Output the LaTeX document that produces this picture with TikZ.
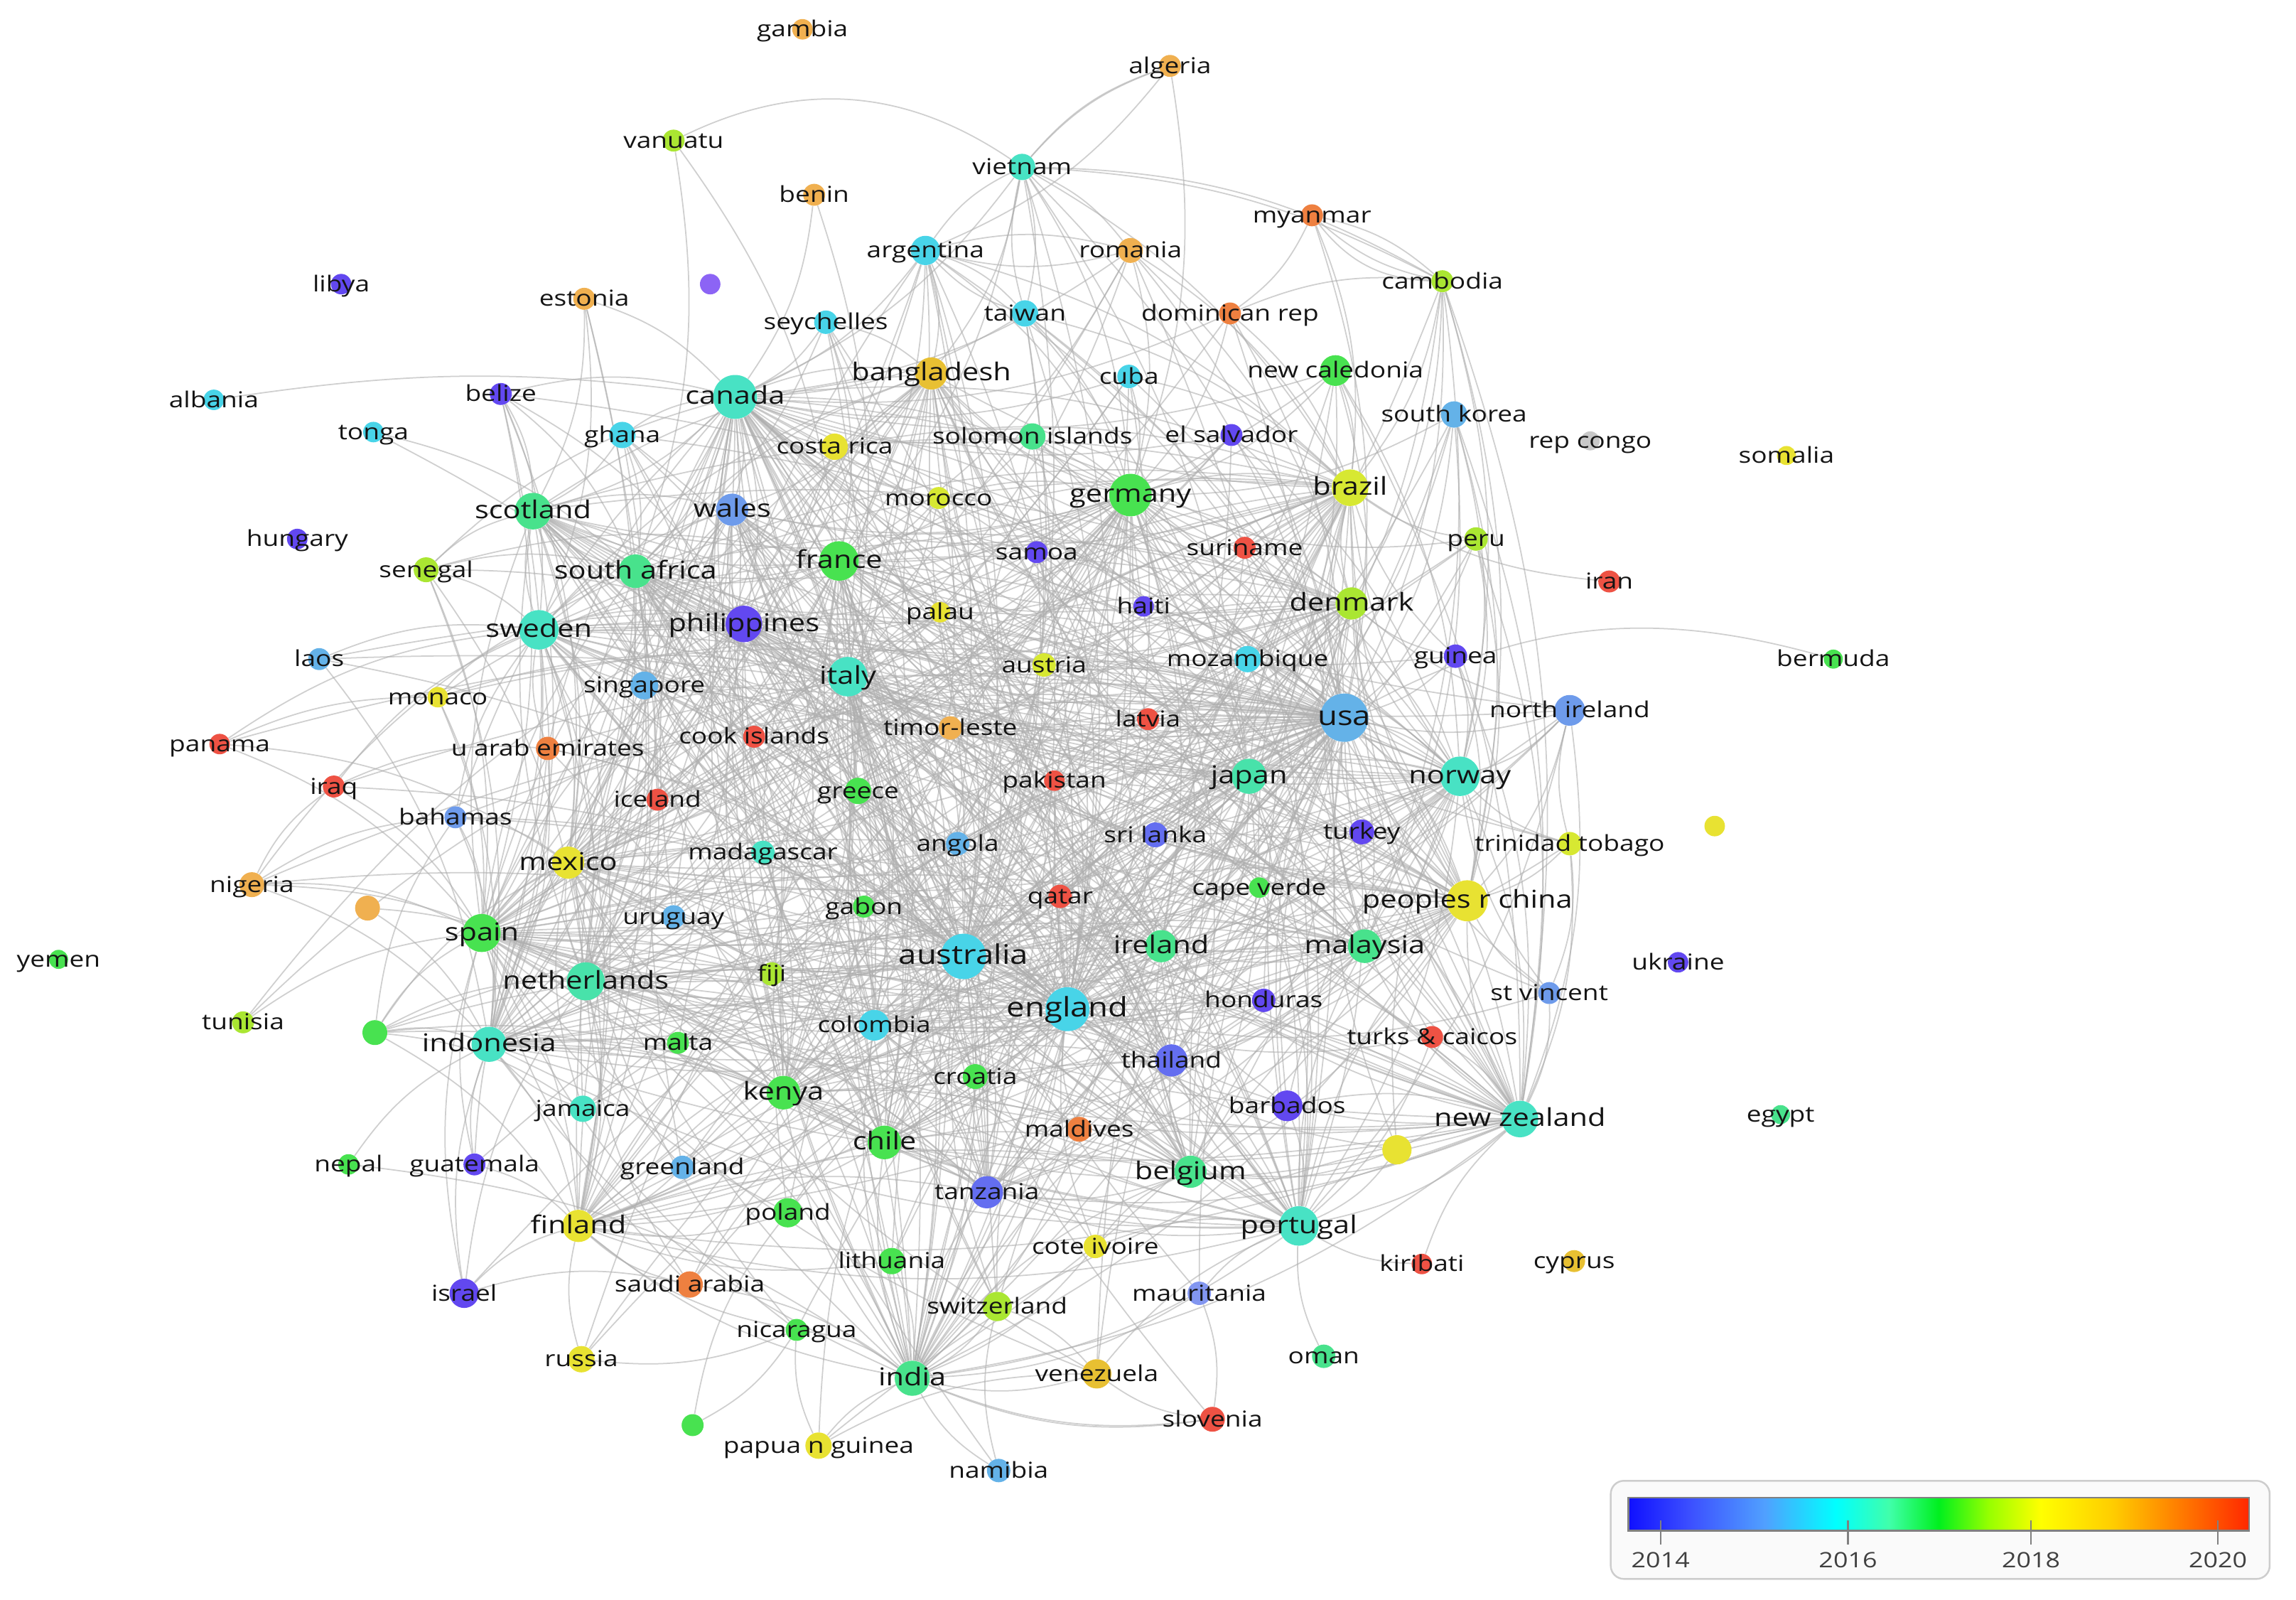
\documentclass[tikz,border=0pt]{standalone}
\usepackage{fontspec}
\setmainfont{Open Sans}[FakeStretch=1.2]
\pgfdeclarelayer{bg}
\pgfdeclarelayer{edges}
\pgfsetlayers{bg,edges,main}
\definecolor{cPur}{RGB}{98,72,240}
\definecolor{cPurL}{RGB}{140,100,245}
\definecolor{cBlue2}{RGB}{100,110,240}
\definecolor{cBlueL}{RGB}{130,150,240}
\definecolor{cLb}{RGB}{100,178,232}
\definecolor{cLb2}{RGB}{110,155,235}
\definecolor{cCyan}{RGB}{72,212,232}
\definecolor{cTurq}{RGB}{72,226,196}
\definecolor{cTurq2}{RGB}{72,226,170}
\definecolor{cSea}{RGB}{72,226,140}
\definecolor{cGreen}{RGB}{72,226,80}
\definecolor{cYG}{RGB}{170,230,50}
\definecolor{cYG2}{RGB}{215,232,50}
\definecolor{cYel}{RGB}{232,226,50}
\definecolor{cGold}{RGB}{232,192,50}
\definecolor{cOr}{RGB}{240,176,80}
\definecolor{cOr2}{RGB}{238,128,64}
\definecolor{cRed}{RGB}{238,82,68}
\definecolor{cGrey}{RGB}{200,200,200}
\definecolor{txt}{RGB}{20,20,20}
\definecolor{edgec}{RGB}{175,175,175}
\definecolor{legtxt}{RGB}{64,64,64}
\definecolor{legbox}{RGB}{205,205,205}
\definecolor{legfill}{RGB}{250,250,250}
\definecolor{s0}{RGB}{16,16,255}
\definecolor{s1}{RGB}{60,80,255}
\definecolor{s2}{RGB}{80,160,255}
\definecolor{s3}{RGB}{0,255,255}
\definecolor{s4}{RGB}{64,255,170}
\definecolor{s5}{RGB}{0,240,30}
\definecolor{s6}{RGB}{150,255,0}
\definecolor{s7}{RGB}{255,255,0}
\definecolor{s8}{RGB}{255,205,0}
\definecolor{s9}{RGB}{255,130,0}
\definecolor{s10}{RGB}{255,40,0}
\pgfdeclarehorizontalshading{vos}{100bp}{color(0bp)=(s0); color(25bp)=(s0); color(30bp)=(s1); color(36bp)=(s2); color(41.7bp)=(s3); color(46bp)=(s4); color(50bp)=(s5); color(54bp)=(s6); color(58.2bp)=(s7); color(64bp)=(s8); color(69bp)=(s9); color(75bp)=(s10); color(100bp)=(s10)}

\def\dotlist{gambia/548/20/14/cOr, algeria/799/45/15/cOr, vanuatu/460/96/15/cYG, vietnam/698/114/18/cTurq, benin/556/133/15/cOr, myanmar/896/147/15/cOr2, argentina/632/171/20/cCyan, romania/772/171/17/cOr, libya/233/194/14/cPur, dotP/485/194/14/cPurL, estonia/399/204/15/cOr, cambodia/985/192/15/cYG, seychelles/564/220/16/cCyan, taiwan/700/214/18/cCyan, domrep/840/214/15/cOr2, albania/146/273/14/cCyan, belize/342/269/15/cPur, canada/502/271/30/cTurq, bangladesh/636/255/22/cGold, cuba/771/257/16/cCyan, newcal/912/253/21/cGreen, southkorea/993/283/18/cLb, tonga/255/295/14/cCyan, ghana/425/297/18/cCyan, costarica/570/305/18/cYel, solomon/705/298/18/cSea, elsalvador/841/297/15/cPur, repcongo/1086/301/13/cGrey, somalia/1220/311/13/cYel, germany/772/338/29/cGreen, brazil/922/333/25/cYG2, scotland/364/349/25/cSea, wales/500/348/22/cLb2, morocco/641/340/15/cYG2, hungary/203/368/14/cPur, samoa/708/377/15/cPur, suriname/850/374/15/cRed, peru/1008/368/16/cYG, southafrica/434/390/23/cSea, france/573/383/27/cGreen, senegal/291/389/17/cYG, iran/1099/397/15/cRed, denmark/923/412/22/cYG, philippines/508/426/25/cPur, sweden/368/430/27/cTurq, palau/642/418/14/cYel, haiti/781/414/14/cPur, laos/218/450/15/cLb, singapore/440/468/19/cLb, italy/579/462/27/cTurq, austria/713/454/16/cYG2, mozambique/852/450/18/cCyan, guinea/994/448/16/cPur, bermuda/1252/450/13/cGreen, monaco/299/476/14/cYel, usa/918/490/33/cLb, nireland/1072/485/21/cLb2, panama/150/508/14/cRed, uae/374/511/16/cOr2, cook/515/503/15/cRed, timor/649/497/16/cOr, latvia/784/491/15/cRed, iraq/228/537/15/cRed, iceland/449/546/15/cRed, greece/586/540/18/cGreen, pakistan/720/533/14/cRed, japan/853/530/24/cTurq2, norway/997/530/27/cTurq, bahamas/311/558/15/cLb2, trinidad/1072/576/16/cYG2, dotYa/1171/564/14/cYel, srilanka/789/570/17/cBlue2, turkey/930/568/17/cPur, mexico/388/589/22/cYel, madagascar/521/582/16/cTurq, angola/654/576/16/cLb, nigeria/172/604/17/cOr, dotO/251/620/17/cOr, capeverde/860/606/14/cGreen, qatar/724/612/16/cRed, china/1002/615/28/cYel, uruguay/460/626/16/cLb, gabon/590/619/15/cGreen, spain/329/637/26/cGreen, yemen/40/655/13/cGreen, australia/658/653/31/cCyan, ireland/793/646/22/cSea, malaysia/932/646/23/cSea, ukraine/1146/657/14/cPur, netherlands/400/670/26/cTurq2, fiji/527/665/16/cYG, stvincent/1058/678/15/cLb2, tunisia/166/698/15/cYG, honduras/863/683/16/cPur, england/729/689/30/cCyan, dotGa/256/705/17/cGreen, indonesia/334/713/24/cTurq, malta/463/712/15/cGreen, colombia/597/700/21/cCyan, turks/978/708/15/cRed, thailand/800/724/22/cBlue2, croatia/666/735/17/cGreen, kenya/535/746/23/cGreen, jamaica/398/757/18/cTurq, barbados/879/755/21/cPur, newzealand/1038/764/25/cTurq, egypt/1216/761/13/cSea, dotYb/954/785/20/cYel, chile/604/780/23/cGreen, maldives/737/771/17/cOr2, nepal/238/795/14/cGreen, guatemala/324/795/15/cPur, greenland/466/797/16/cLb, belgium/813/800/22/cSea, tanzania/674/814/22/cBlue2, poland/538/828/20/cGreen, finland/395/837/22/cYel, portugal/887/837/27/cTurq, lithuania/609/861/18/cGreen, coteivoire/748/851/16/cYel, kiribati/971/863/14/cRed, cyprus/1075/861/15/cGold, israel/317/883/20/cPur, saudi/471/877/18/cOr2, mauritania/819/883/16/cBlueL, switzerland/681/892/20/cYG, nicaragua/544/908/15/cGreen, russia/397/928/18/cYel, oman/904/926/16/cSea, india/623/941/24/cSea, venezuela/749/938/20/cGold, slovenia/828/969/17/cRed, dotGb/473/973/15/cGreen, papua/559/987/18/cYel, namibia/682/1004/16/cLb}

\def\lablist{gambia/15/gambia, algeria/15/algeria, vanuatu/15/vanuatu, vietnam/15/vietnam, benin/15/benin, myanmar/15/myanmar, argentina/15/argentina, romania/15/romania, libya/15/libya, estonia/15/estonia, cambodia/15/cambodia, seychelles/15/seychelles, taiwan/15/taiwan, domrep/15/dominican rep, albania/15/albania, belize/15/belize, canada/16.8/canada, bangladesh/16.8/bangladesh, cuba/15/cuba, newcal/15/new caledonia, southkorea/15/south korea, tonga/15/tonga, ghana/15/ghana, costarica/15/costa rica, solomon/15/solomon islands, elsalvador/15/el salvador, repcongo/15/rep congo, somalia/15/somalia, germany/16.8/germany, brazil/16.8/brazil, scotland/16.8/scotland, wales/16.8/wales, morocco/15/morocco, hungary/15/hungary, samoa/15/samoa, suriname/15/suriname, peru/15/peru, southafrica/16.8/south africa, france/16.8/france, senegal/15/senegal, iran/15/iran, denmark/16.8/denmark, philippines/16.8/philippines, sweden/16.8/sweden, palau/15/palau, haiti/15/haiti, laos/15/laos, singapore/15/singapore, italy/16.8/italy, austria/15/austria, mozambique/15/mozambique, guinea/15/guinea, bermuda/15/bermuda, monaco/15/monaco, usa/18.4/usa, nireland/15/north ireland, panama/15/panama, uae/15/u arab emirates, cook/15/cook islands, timor/15/timor-leste, latvia/15/latvia, iraq/15/iraq, iceland/15/iceland, greece/15/greece, pakistan/15/pakistan, japan/16.8/japan, norway/16.8/norway, bahamas/15/bahamas, trinidad/15/trinidad tobago, srilanka/15/sri lanka, turkey/15/turkey, mexico/16.8/mexico, madagascar/15/madagascar, angola/15/angola, nigeria/15/nigeria, capeverde/15/cape verde, qatar/15/qatar, china/16.8/peoples r china, uruguay/15/uruguay, gabon/15/gabon, spain/16.8/spain, yemen/15/yemen, australia/18.4/australia, ireland/16.8/ireland, malaysia/16.8/malaysia, ukraine/15/ukraine, netherlands/16.8/netherlands, fiji/15/fiji, stvincent/15/st vincent, tunisia/15/tunisia, honduras/15/honduras, england/18.4/england, indonesia/16.8/indonesia, malta/15/malta, colombia/15/colombia, turks/15/turks \& caicos, thailand/15/thailand, croatia/15/croatia, kenya/16.8/kenya, jamaica/15/jamaica, barbados/15/barbados, newzealand/16.8/new zealand, egypt/15/egypt, chile/16.8/chile, maldives/15/maldives, nepal/15/nepal, guatemala/15/guatemala, greenland/15/greenland, belgium/16.8/belgium, tanzania/15/tanzania, poland/15/poland, finland/16.8/finland, portugal/16.8/portugal, lithuania/15/lithuania, coteivoire/15/cote ivoire, kiribati/15/kiribati, cyprus/15/cyprus, israel/15/israel, saudi/15/saudi arabia, mauritania/15/mauritania, switzerland/15/switzerland, nicaragua/15/nicaragua, russia/15/russia, oman/15/oman, india/16.8/india, venezuela/15/venezuela, slovenia/15/slovenia, papua/15/papua n guinea, namibia/15/namibia}

\def\hubs{australia,england,usa,canada,germany,france,sweden,japan,norway,newzealand,portugal,china,spain,netherlands,italy,southafrica,scotland,india,indonesia,chile,kenya,mexico,finland,belgium,malaysia,ireland,denmark,brazil,philippines,bangladesh,wales,colombia,thailand,tanzania}

\def\links{argentina/{canada,usa,brazil,germany,france,australia,england,spain,italy,mexico,chile,vietnam,taiwan,romania,bangladesh,india},
taiwan/{usa,japan,germany,australia,england,canada,china,vietnam,argentina,india,brazil},
vietnam/{canada,usa,australia,england,japan,taiwan,cambodia,bangladesh,germany,france,romania,brazil,algeria},
romania/{germany,france,italy,usa,canada,argentina,spain,brazil,denmark,portugal},
seychelles/{canada,australia,france,southafrica,kenya,india,england,bangladesh},
cuba/{usa,canada,mexico,brazil,germany,spain,australia,england},
domrep/{usa,brazil,canada,germany,mexico,portugal,cambodia},
newcal/{france,australia,newzealand,usa,canada,brazil,japan,norway,germany,england},
southkorea/{usa,japan,china,norway,australia,england,germany,newzealand,malaysia},
cambodia/{usa,australia,brazil,china,japan,norway,denmark,myanmar,malaysia,newzealand},
costarica/{canada,usa,mexico,brazil,spain,australia,germany,chile},
solomon/{australia,newzealand,england,usa,canada,japan,germany,fiji,france},
elsalvador/{usa,mexico,brazil,canada,spain,germany,england,norway},
morocco/{france,spain,canada,germany,italy,australia,england,usa},
samoa/{australia,newzealand,usa,england,fiji,canada,germany},
suriname/{brazil,usa,netherlands,germany,england,norway,denmark},
peru/{usa,brazil,spain,chile,mexico,norway,china,germany,newzealand},
senegal/{france,canada,spain,sweden,scotland,southafrica,netherlands,italy,indonesia},
ghana/{canada,southafrica,england,usa,kenya,scotland,australia,netherlands,india},
belize/{canada,mexico,usa,scotland,sweden,southafrica,spain,philippines,indonesia},
estonia/{sweden,scotland,finland,canada,netherlands},
palau/{australia,usa,japan,philippines,canada,england,newzealand},
haiti/{usa,canada,brazil,france,mexico,germany,norway},
singapore/{australia,england,canada,usa,china,malaysia,indonesia,philippines,sweden,netherlands},
austria/{germany,italy,france,usa,england,australia,canada,norway,denmark},
mozambique/{southafrica,usa,australia,brazil,kenya,portugal,england,norway,denmark},
guinea/{usa,france,brazil,norway,china,denmark,newzealand},
nireland/{england,usa,norway,newzealand,ireland,scotland,canada,australia,china,denmark,portugal},
laos/{australia,sweden,usa,china,indonesia},
monaco/{france,italy,spain,sweden,indonesia,usa},
panama/{usa,mexico,spain,sweden},
uae/{australia,usa,england,india,spain,canada,sweden,indonesia},
cook/{australia,newzealand,usa,england,canada,fiji},
timor/{australia,indonesia,usa,england,newzealand,japan,portugal},
latvia/{germany,usa,norway,sweden,england,denmark},
iraq/{usa,england,sweden,uae,spain},
iceland/{usa,norway,england,canada,sweden,denmark,germany},
greece/{italy,spain,germany,france,usa,england,australia,canada},
pakistan/{usa,england,china,australia,canada,india},
bahamas/{usa,canada,mexico,spain,sweden,australia,england,indonesia},
trinidad/{usa,england,canada,norway,newzealand,china,nireland,stvincent},
srilanka/{india,australia,usa,england,japan,china,malaysia},
turkey/{usa,germany,china,norway,england,japan,italy},
madagascar/{france,usa,southafrica,kenya,australia,canada,england,indonesia},
angola/{brazil,portugal,southafrica,usa,england,australia,germany},
nigeria/{usa,england,spain,netherlands,indonesia,bahamas,iraq,southafrica},
capeverde/{portugal,brazil,usa,spain,england,germany},
qatar/{usa,england,australia,china,india},
uruguay/{brazil,argentina,spain,chile,usa,mexico,canada},
gabon/{france,usa,kenya,southafrica,australia,england},
fiji/{australia,newzealand,usa,england,canada,kenya},
stvincent/{usa,england,canada,newzealand,norway,china},
tunisia/{spain,france,italy},
honduras/{usa,mexico,spain,canada,england},
dotGa/{indonesia,spain,netherlands,mexico,kenya,bahamas,finland,jamaica,australia,england,chile},
malta/{italy,england,australia,usa,spain},
turks/{usa,england,canada,newzealand,portugal},
croatia/{italy,germany,usa,england,australia,spain},
jamaica/{usa,canada,england,australia,mexico,indonesia},
barbados/{usa,england,canada,newzealand,portugal,norway},
maldives/{australia,india,england,usa},
nepal/{indonesia,india},
guatemala/{usa,mexico,spain,indonesia,finland},
greenland/{denmark,usa,canada,norway,finland,netherlands},
poland/{germany,usa,england,spain,italy,finland},
lithuania/{finland,germany,usa,india,england},
coteivoire/{france,usa,england,portugal,india,belgium},
israel/{usa,finland,saudi,spain,indonesia,netherlands},
saudi/{usa,australia,england,spain,india,netherlands,finland},
mauritania/{france,usa,portugal,india,slovenia},
switzerland/{germany,france,usa,italy,england,india,australia,venezuela},
nicaragua/{usa,mexico,spain,india,finland,dotGb,russia},
russia/{usa,finland,germany,norway},
oman/{portugal},
venezuela/{usa,spain,brazil,mexico,portugal,india},
slovenia/{italy,india,venezuela},
papua/{australia,india,newzealand,nicaragua,venezuela},
namibia/{southafrica,india,switzerland},
kiribati/{portugal,newzealand},
iran/{brazil},
tonga/{southafrica,australia},
algeria/{argentina,germany},
vanuatu/{southafrica,france},
benin/{canada,italy},
myanmar/{cambodia,usa,brazil,domrep},
dotYb/{usa,newzealand,portugal,england,norway,belgium},
dotO/{indonesia,netherlands}}

\begin{document}
\begin{tikzpicture}[x=1pt,y=-1pt,
  dotn/.style={circle,inner sep=0pt,draw=none},
  lab/.style={inner sep=0pt,text=txt,text height=0.72em,text depth=0pt,yshift=-1.5pt},
  lnk/.style={draw=edgec,draw opacity=0.6,line width=0.85pt,bend left=14},
  leglab/.style={inner sep=0pt,text=legtxt,font=\fontsize{14.5}{14.5}\selectfont}]
\begin{pgfonlayer}{bg}
\fill[white] (0,0) rectangle (1568,1092);
\end{pgfonlayer}
\useasboundingbox (0,0) rectangle (1568,1092);

% nodes
\foreach \id/\px/\py/\d/\c in \dotlist {
  \node[dotn,minimum size=\d pt,fill=\c] (\id) at (\px,\py) {};
}
% labels
\foreach \id/\f/\t in \lablist {
  \node[lab,font=\fontsize{\f}{\f}\selectfont] (\id-l) at (\id) {\t};
}

% connectors
\begin{pgfonlayer}{edges}
\foreach \a [count=\i] in \hubs {
  \foreach \b [count=\j] in \hubs {
    \ifnum\j>\i \draw[lnk] (\a) to (\b); \fi
  }
}
\foreach \a/\nb in \links {
  \foreach \b in \nb { \draw[lnk] (\a) to (\b); }
}
\draw[lnk,bend left=30] (vanuatu) to (vietnam);
\draw[lnk,bend left=12] (vietnam) to (cambodia);
\draw[lnk,bend left=8] (albania) to (canada);
\draw[lnk,bend right=22] (bermuda) to (usa);
\draw[lnk,bend right=15] (algeria) to (vietnam);
\draw[lnk,bend right=25] (myanmar) to (cambodia);
\draw[lnk,bend left=15] (slovenia) to (india);
\draw[lnk,bend left=12] (panama) to (monaco);
\draw[lnk] (dotGb) to (poland);
\end{pgfonlayer}

% legend
\draw[draw=legbox,fill=legfill,line width=1.2pt,rounded corners=9pt] (1100,1011) rectangle (1550,1078);
\shade[shading=vos] (1112,1022.5) rectangle (1536,1045);
\draw[gray,line width=1.3pt] (1112,1022.5) rectangle (1536,1045);
\foreach \tx/\yr in {1134/2014,1262/2016,1387/2018,1514.6/2020} {
  \draw[gray,line width=1pt] (\tx,1038) -- (\tx,1054.6);
  \node[leglab] (y\yr) at (\tx,1065) {\yr};
}
\end{tikzpicture}
\end{document}
